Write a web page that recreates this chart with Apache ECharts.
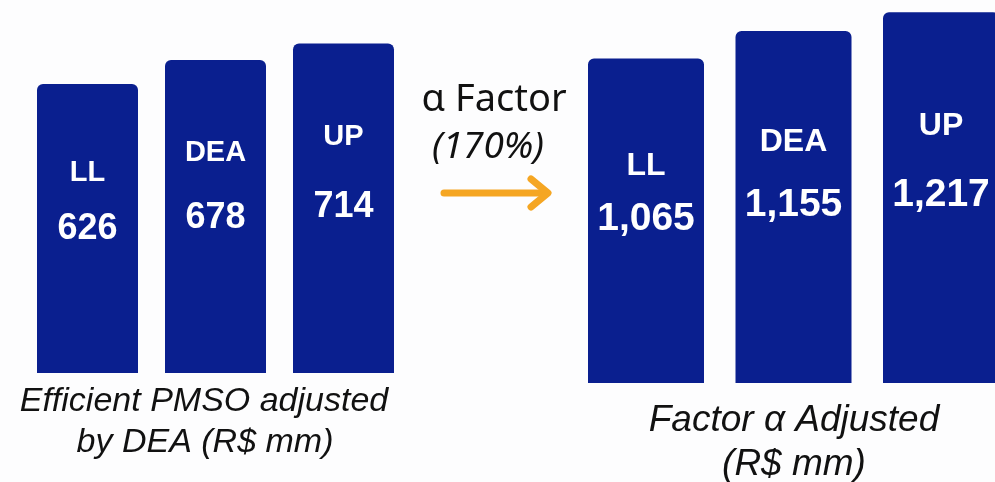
<!DOCTYPE html>
<html>
<head>
<meta charset="utf-8">
<script src="https://cdn.jsdelivr.net/npm/echarts@6/dist/echarts.min.js"></script>
<style>html,body{margin:0;padding:0;background:#fdfdfe;}#c{width:995px;height:482px;}</style>
</head>
<body>
<div id="c"></div>
<script>
const categories = ['LL', 'DEA', 'UP'];
const efficientValues = [626, 678, 714];
const adjustedValues = [1065, 1155, 1217];
const factorLabel = 'α Factor';
const factorPct = '(170%)';
const leftCaption = ['Efficient PMSO adjusted', 'by DEA (R$ mm)'];
const rightCaption = ['Factor α Adjusted', '(R$ mm)'];

// styling-only offsets (label y relative to bar top)
const leftNameOff = [89, 93, 94], leftValOff = [145, 158, 164];
const rightNameOff = [108, 111, 114], rightValOff = [161, 174, 183];

const BAR = '#0a1f8f';
const fmt = v => v.toLocaleString('en-US');

function mkSeries(vals, axisIdx, width, nameOff, valOff, nameSize, valSize) {
  return [
    {
      type: 'bar', xAxisIndex: axisIdx, yAxisIndex: axisIdx, barWidth: width, barGap: '-100%', clip: false,
      itemStyle: { color: BAR, borderRadius: [6, 6, 0, 0] },
      data: vals.map((v, i) => ({
        value: v,
        label: { show: true, position: ['50%', nameOff[i]], align: 'center', verticalAlign: 'middle',
          formatter: categories[i], color: '#fff', fontSize: nameSize, fontWeight: 'bold', fontFamily: 'Liberation Sans' }
      })),
      silent: true, animation: false
    },
    {
      type: 'bar', xAxisIndex: axisIdx, yAxisIndex: axisIdx, barWidth: width, barGap: '-100%', clip: false,
      itemStyle: { color: 'rgba(0,0,0,0)' },
      data: vals.map((v, i) => ({
        value: v,
        label: { show: true, position: ['50%', valOff[i]], align: 'center', verticalAlign: 'middle',
          formatter: fmt(v), color: '#fff', fontSize: valSize, fontWeight: 'bold', fontFamily: 'Liberation Sans' }
      })),
      silent: true, animation: false
    }
  ];
}

const chart = echarts.init(document.getElementById('c'));
const hiddenX = i => ({ type: 'category', gridIndex: i, data: categories, show: false, boundaryGap: false });
const hiddenY = (i, max) => ({ type: 'value', gridIndex: i, min: 0, max: max, show: false });

chart.setOption({
  backgroundColor: '#fdfdfe',
  animation: false,
  grid: [
    { left: 87.5, top: 0, width: 256, height: 373 },
    { left: 646, top: 0, width: 295, height: 383 }
  ],
  xAxis: [hiddenX(0), hiddenX(1)],
  yAxis: [hiddenY(0, 808), hiddenY(1, 1257)],
  series: [
    ...mkSeries(efficientValues, 0, 101, leftNameOff, leftValOff, 29, 36),
    ...mkSeries(adjustedValues, 1, 116, rightNameOff, rightValOff, 32, 39)
  ],
  graphic: [
    { type: 'text', x: 494, y: 100, style: { text: factorLabel, fill: '#111', font: '38px "Noto Sans"', textAlign: 'center', textVerticalAlign: 'middle' } },
    { type: 'text', x: 488, y: 147, style: { text: factorPct, fill: '#111', font: 'italic 37px "Noto Sans"', textAlign: 'center', textVerticalAlign: 'middle' } },
    { type: 'polyline', shape: { points: [[444, 193], [547, 193]] }, style: { stroke: '#f5a623', lineWidth: 7, lineCap: 'round' } },
    { type: 'polyline', shape: { points: [[531, 179], [548, 193], [531, 207]] }, style: { stroke: '#f5a623', lineWidth: 7, lineCap: 'round', lineJoin: 'round', fill: null } },
    { type: 'text', x: 204, y: 402, style: { text: leftCaption[0], fill: '#111', font: 'italic 34px "Liberation Sans"', textAlign: 'center', textVerticalAlign: 'middle' } },
    { type: 'text', x: 205, y: 443, style: { text: leftCaption[1], fill: '#111', font: 'italic 34px "Liberation Sans"', textAlign: 'center', textVerticalAlign: 'middle' } },
    { type: 'text', x: 794, y: 421, style: { text: rightCaption[0], fill: '#111', font: 'italic 37px "Liberation Sans"', textAlign: 'center', textVerticalAlign: 'middle' } },
    { type: 'text', x: 794, y: 465, style: { text: rightCaption[1], fill: '#111', font: 'italic 37px "Liberation Sans"', textAlign: 'center', textVerticalAlign: 'middle' } }
  ]
});
</script>
</body>
</html>
